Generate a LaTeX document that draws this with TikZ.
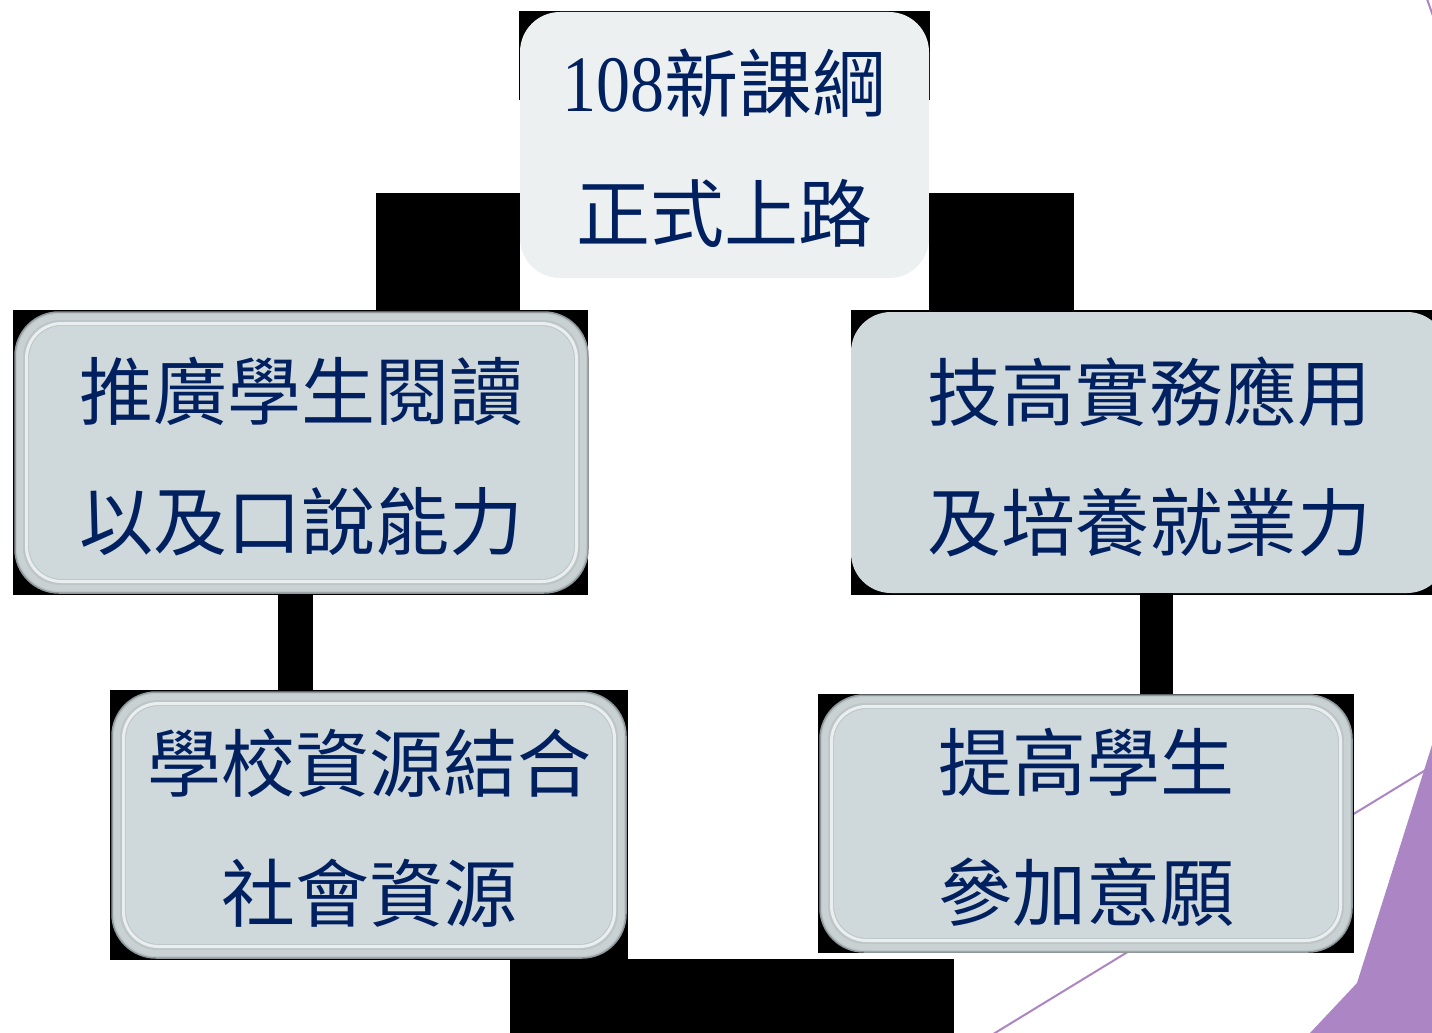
\documentclass[tikz,border=0pt]{standalone}
\usepackage{fontspec}
\newfontfamily\cjk{Noto Sans CJK TC}
\newfontfamily\tnr{Liberation Serif}
\definecolor{navy}{HTML}{002060}
\definecolor{rim}{HTML}{BCC6C9}
\definecolor{rimedge}{HTML}{8E989A}
\definecolor{rimmid}{HTML}{C9D1D3}
\definecolor{face}{HTML}{CFD8DA}
\definecolor{topface}{HTML}{ECF0F1}
\definecolor{lilac}{HTML}{AC85C5}
\tikzset{
  txt/.style={text=navy, align=center, font=\fontsize{74}{130}\selectfont\cjk, inner sep=0pt},
  bevelbox/.style={rectangle, rounded corners=44pt, fill=rim, draw=rimedge, line width=1.5pt,
    path picture={
      \draw[rimmid, line width=6pt, rounded corners=40pt]
        ([shift={(5pt,5pt)}]path picture bounding box.south west) rectangle
        ([shift={(-5pt,-5pt)}]path picture bounding box.north east);
      \draw[white, opacity=0.7, line width=3pt, rounded corners=35pt]
        ([shift={(11.5pt,11.5pt)}]path picture bounding box.south west) rectangle
        ([shift={(-11.5pt,-11.5pt)}]path picture bounding box.north east);
      \fill[face, rounded corners=33pt]
        ([shift={(14pt,14pt)}]path picture bounding box.south west) rectangle
        ([shift={(-14pt,-14pt)}]path picture bounding box.north east);
    }},
  flatbox/.style={rectangle, rounded corners=40pt},
  bar/.style={fill=black},
  accent/.style={draw=lilac, line width=2pt}
}
\begin{document}
\begin{tikzpicture}[x=1pt,y=-1pt]
\useasboundingbox (0,0) rectangle (1432,1033);
\fill[white] (0,0) rectangle (1432,1033);
% decorative purple shapes
\coordinate (la) at (1442,760);
\coordinate (lb) at (990,1036);
\draw[accent] (la) -- (lb);
\draw[accent] (1427,-1) -- (1433,16);
\fill[lilac] (1432,745) -- (1357,983) -- (1310,1033) -- (1432,1033) -- cycle;
% black backings
\fill[bar] (519,11) rectangle (930,100);
\fill[bar] (13,310) rectangle (588,595);
\fill[bar] (851,310) rectangle (1432,595);
\fill[bar] (110,690) rectangle (628,960);
\fill[bar] (818,694) rectangle (1354,953);
% boxes
\node[flatbox, fill=topface, minimum width=409pt, minimum height=266pt] (top) at (724.5,145) {};
\node[bevelbox, minimum width=573pt, minimum height=281pt] (left) at (301.5,452.5) {};
\node[flatbox, fill=face, minimum width=596pt, minimum height=281pt] (right) at (1149,452.5) {};
\node[bevelbox, minimum width=514pt, minimum height=266pt] (bl) at (369,825) {};
\node[bevelbox, minimum width=532pt, minimum height=257pt] (br) at (1086,823.5) {};
% texts
\node[txt] (topt) at ([yshift=-3pt]top.center)
  {\scalebox{0.85}[1]{\fontsize{80}{130}\selectfont\tnr 108}新課綱\\正式上路};
\node[txt] (leftt) at ([yshift=-4pt]left.center) {推廣學生閱讀\\以及口說能力};
\node[txt] (rightt) at ([yshift=-4pt]right.center) {技高實務應用\\及培養就業力};
\node[txt] (blt) at ([yshift=-3pt]bl.center) {學校資源結合\\社會資源};
\node[txt] (brt) at ([yshift=-4pt]br.center) {提高學生\\參加意願};
% connectors (black bars)
\fill[bar] (376,193) rectangle (left.north -| top.west);
\fill[bar] (top.east |- 0,193) rectangle (1074,312);
\fill[bar] (left.south -| 278,0) rectangle (bl.north -| 313,0);
\fill[bar] (right.south -| 1140,0) rectangle (br.north -| 1173,0);
\fill[bar] (bl.south -| 510,0) rectangle (954,1033);
\end{tikzpicture}
\end{document}
